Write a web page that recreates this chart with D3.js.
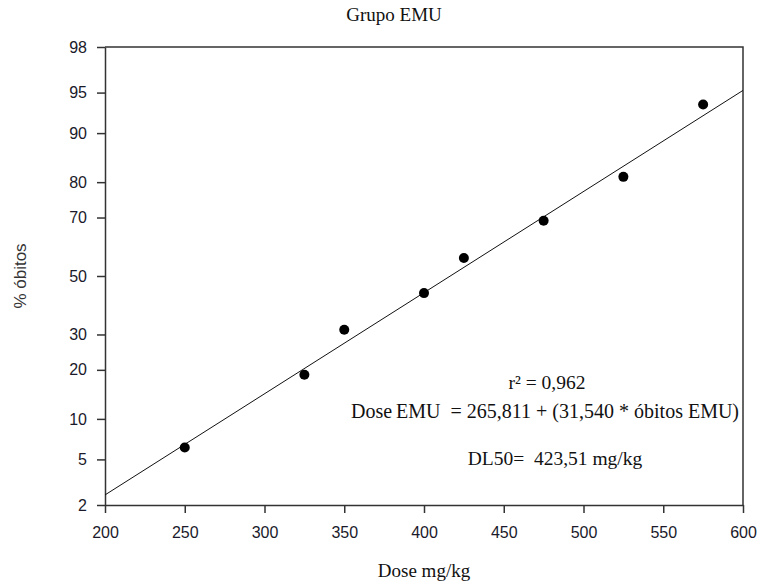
<!DOCTYPE html>
<html>
<head>
<meta charset="utf-8">
<script src="https://cdn.jsdelivr.net/npm/d3@7"></script>
<style>
  body { margin: 0; background: #fff; }
  .axis path, .axis line { stroke: #333; stroke-width: 1.5; }
  .axis text { font-family: "Liberation Sans", Arial, sans-serif; font-size: 16px; fill: #1a1a2a; }
  .serif { font-family: "Liberation Serif", "Times New Roman", serif; fill: #111; }
</style>
</head>
<body>
<div id="chart"></div>
<script>
// data
var doses = [250, 325, 350, 400, 425, 475, 525, 575];
var deaths = [6.2, 18.8, 31.5, 43.9, 56.4, 69.0, 81.3, 93.8];
// fitted probit line, read at the ends of the dose axis
var fitDoses = [200, 600];
var fitDeaths = [2.48, 95.2];
var xTicks = [200, 250, 300, 350, 400, 450, 500, 550, 600];
var yTicks = [2, 5, 10, 20, 30, 50, 70, 80, 90, 95, 98];
var notes = ["r\u00b2 = 0,962", "Dose\u2009EMU  = 265,811 + (31,540 * \u00f3bitos EMU)", "DL50=  423,51 mg/kg"];

var width = 759, height = 583;
var margin = {top: 47, left: 105, right: 16, bottom: 78};

// inverse normal cdf (Acklam), used to build the probability scale
function probit(p) {
  var a = [-39.69683028665376, 220.9460984245205, -275.9285104469687, 138.3577518672690, -30.66479806614716, 2.506628277459239];
  var b = [-54.47609879822406, 161.5858368580409, -155.6989798598866, 66.80131188771972, -13.28068155288572];
  var c = [-0.007784894002430293, -0.3223964580411365, -2.400758277161838, -2.549732539343734, 4.374664141464968, 2.938163982698783];
  var d = [0.007784695709041462, 0.3224671290700398, 2.445134137142996, 3.754408661907416];
  var q, r;
  if (p < 0.02425) {
    q = Math.sqrt(-2 * Math.log(p));
    return (((((c[0]*q+c[1])*q+c[2])*q+c[3])*q+c[4])*q+c[5]) / ((((d[0]*q+d[1])*q+d[2])*q+d[3])*q+1);
  } else if (p > 1 - 0.02425) {
    q = Math.sqrt(-2 * Math.log(1 - p));
    return -(((((c[0]*q+c[1])*q+c[2])*q+c[3])*q+c[4])*q+c[5]) / ((((d[0]*q+d[1])*q+d[2])*q+d[3])*q+1);
  }
  q = p - 0.5; r = q * q;
  return (((((a[0]*r+a[1])*r+a[2])*r+a[3])*r+a[4])*r+a[5])*q / (((((b[0]*r+b[1])*r+b[2])*r+b[3])*r+b[4])*r+1);
}

var svg = d3.select("#chart").append("svg")
  .attr("width", width)
  .attr("height", height);

var xScale = d3.scaleLinear()
  .domain([200, 600])
  .range([margin.left, width - margin.right]);

var zScale = d3.scaleLinear()
  .domain([probit(0.02), probit(0.98)])
  .range([height - margin.bottom, margin.top]);

function yScale(pct) { return zScale(probit(pct / 100)); }

// frame (top and right sides)
svg.append("path")
  .attr("d", "M" + xScale(200) + "," + yScale(98) + "H" + xScale(600) + "V" + yScale(2))
  .attr("fill", "none")
  .attr("stroke", "#333")
  .attr("stroke-width", 1.5);

var xAxis = svg.append("g")
  .attr("class", "axis")
  .attr("transform", "translate(0," + (height - margin.bottom) + ")")
  .call(d3.axisBottom(xScale).tickValues(xTicks).tickSize(8).tickPadding(14).tickSizeOuter(0));

var yAxis = svg.append("g")
  .attr("class", "axis")
  .attr("transform", "translate(" + margin.left + ",0)")
  .call(d3.axisLeft(zScale)
    .tickValues(yTicks.map(function(t) { return probit(t / 100); }))
    .tickFormat(function(d, i) { return yTicks[i]; })
    .tickSize(8).tickPadding(10).tickSizeOuter(0));

// fitted line
svg.append("line")
  .attr("x1", xScale(fitDoses[0]))
  .attr("y1", yScale(fitDeaths[0]))
  .attr("x2", xScale(fitDoses[1]))
  .attr("y2", yScale(fitDeaths[1]))
  .attr("stroke", "#111")
  .attr("stroke-width", 1);

// points
svg.selectAll(".point")
  .data(doses)
  .enter()
  .append("circle")
  .attr("class", "point")
  .attr("cx", function(d) { return xScale(d); })
  .attr("cy", function(d, i) { return yScale(deaths[i]); })
  .attr("r", 5)
  .attr("fill", "#000");

// titles
svg.append("text")
  .attr("class", "serif")
  .attr("x", 394)
  .attr("y", 21)
  .attr("text-anchor", "middle")
  .style("font-size", "19px")
  .text("Grupo EMU");

svg.append("text")
  .attr("class", "serif")
  .attr("x", (xScale(200) + xScale(600)) / 2)
  .attr("y", 577)
  .attr("text-anchor", "middle")
  .style("font-size", "19px")
  .text("Dose mg/kg");

svg.append("text")
  .attr("transform", "translate(26," + yScale(50) + ")rotate(-90)")
  .attr("text-anchor", "middle")
  .style("font-family", "Liberation Sans, Arial, sans-serif")
  .style("font-size", "17px")
  .attr("fill", "#333")
  .text("% \u00f3bitos");

// annotations
var noteX = [547, 545, 555];
var noteY = [389, 418, 465];
var noteSize = [19.5, 20, 19.5];
svg.selectAll(".note")
  .data(notes)
  .enter()
  .append("text")
  .attr("class", "serif note")
  .attr("x", function(d, i) { return noteX[i]; })
  .attr("y", function(d, i) { return noteY[i]; })
  .attr("text-anchor", "middle")
  .style("font-size", function(d, i) { return noteSize[i] + "px"; })
  .style("white-space", "pre")
  .text(function(d) { return d; });
</script>
</body>
</html>
